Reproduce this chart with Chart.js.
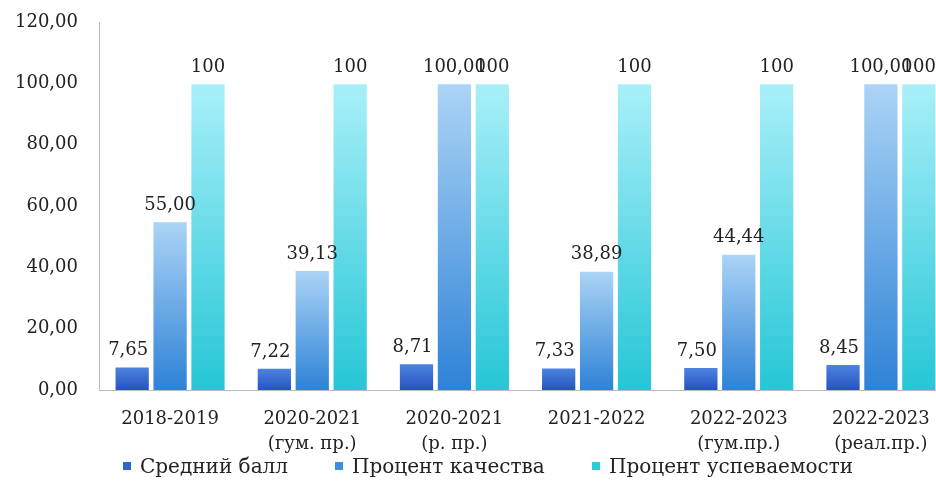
<!DOCTYPE html>
<html>
<head>
<meta charset="utf-8">
<script src="https://cdn.jsdelivr.net/npm/chart.js@4"></script>
<style>
  html, body { margin: 0; padding: 0; background: #fff; overflow: hidden; }
  #wrap { width: 952px; height: 491px; position: relative; }
  #legend { position: absolute; left: 0; top: 454px; width: 952px; height: 30px;
            font: 20px 'DejaVu Serif', serif; color: #222; white-space: nowrap; }
  #legend span.item { position: absolute; top: 0; display: flex; align-items: center; }
  #legend i { display: inline-block; width: 8px; height: 8px; margin-right: 9px; }
</style>
</head>
<body>
<div id="wrap"><canvas id="results"></canvas><div id="legend"></div></div>
<script>
// Данные
const categories = [
    ["2018-2019"],
    ["2020-2021", "(гум. пр.)"],
    ["2020-2021", "(р. пр.)"],
    ["2021-2022"],
    ["2022-2023", "(гум.пр.)"],
    ["2022-2023", "(реал.пр.)"]
];
const avgScore = [7.65, 7.22, 8.71, 7.33, 7.50, 8.45];
const qualityPct = [55.00, 39.13, 100.00, 38.89, 44.44, 100.00];
const successPct = [100, 100, 100, 100, 100, 100];
const yTicks = [0, 20, 40, 60, 80, 100, 120];

const serif = "'DejaVu Serif', 'Liberation Serif', serif";

// вертикальный градиент для каждого столбика
function barGradient(top, bottom) {
    return function (ctx) {
        const chart = ctx.chart;
        if (!chart.chartArea || ctx.raw === undefined) return bottom;
        const y = chart.scales.y;
        const y0 = y.getPixelForValue(0);
        const y1 = y.getPixelForValue(ctx.raw);
        const g = chart.ctx.createLinearGradient(0, y1, 0, y0);
        g.addColorStop(0, top);
        g.addColorStop(1, bottom);
        return g;
    };
}

// подписи над столбиками
const valueLabels = {
    id: "valueLabels",
    afterDatasetsDraw(chart) {
        const c = chart.ctx;
        c.save();
        c.font = "18px " + serif;
        c.fillStyle = "#222";
        c.textAlign = "center";
        c.textBaseline = "bottom";
        chart.data.datasets.forEach((ds, i) => {
            const meta = chart.getDatasetMeta(i);
            meta.data.forEach((bar, j) => {
                const v = ds.data[j];
                const txt = i === 2 ? String(v) : v.toFixed(2).replace(".", ",");
                const dx = i === 0 ? -4 : 0;
                c.fillText(txt, bar.x + dx, bar.y - 7);
            });
        });
        c.restore();
    }
};

const legendColors = ["#2f64cc", "#3d8fe0", "#2fcbd8"];
const legendLeft = [123, 335, 592];

const chart = new Chart(document.getElementById("results"), {
    type: "bar",
    data: {
        labels: categories,
        datasets: [{
            label: "Средний балл",
            data: avgScore,
            backgroundColor: barGradient("#4f86e0", "#2553c0"),
            borderColor: "rgba(255,255,255,0.9)",
            borderWidth: 1
        }, {
            label: "Процент качества",
            data: qualityPct,
            backgroundColor: barGradient("#acd4f6", "#2e82d6"),
            borderColor: "rgba(255,255,255,0.9)",
            borderWidth: 1
        }, {
            label: "Процент успеваемости",
            data: successPct,
            backgroundColor: barGradient("#a9f0f9", "#26c6d6"),
            borderColor: "rgba(255,255,255,0.9)",
            borderWidth: 1
        }]
    },
    plugins: [valueLabels],
    options: {
        responsive: true,
        maintainAspectRatio: false,
        animation: false,
        datasets: {
            bar: { categoryPercentage: 0.8, barPercentage: 0.93 }
        },
        layout: { padding: { top: 0, left: 0, right: 0, bottom: 31 } },
        plugins: {
            tooltip: { enabled: false },
            legend: { display: false }
        },
        scales: {
            x: {
                afterFit(s) { s.height = 70; },
                grid: { display: false, drawTicks: false },
                border: { color: "#bbb", width: 1 },
                ticks: {
                    color: "#222",
                    padding: 17,
                    maxRotation: 0,
                    font: { family: serif, size: 18, lineHeight: 1.4 }
                }
            },
            y: {
                min: 0,
                max: 120,
                afterFit(s) {
                    s.width = 99;
                    s.paddingTop = 22;
                },
                afterBuildTicks(s) { s.ticks = yTicks.map(v => ({ value: v })); },
                grid: { display: false, drawTicks: false },
                border: { color: "#bbb", width: 1 },
                ticks: {
                    color: "#222",
                    padding: 21,
                    font: { family: serif, size: 18 },
                    callback: v => v.toFixed(2).replace(".", ",")
                }
            }
        }
    }
});

// легенда
const legendBox = document.getElementById("legend");
chart.data.datasets.forEach((ds, i) => {
    const item = document.createElement("span");
    item.className = "item";
    item.style.left = legendLeft[i] + "px";
    const sw = document.createElement("i");
    sw.style.background = legendColors[i];
    item.appendChild(sw);
    item.appendChild(document.createTextNode(ds.label));
    legendBox.appendChild(item);
});
</script>
</body>
</html>
